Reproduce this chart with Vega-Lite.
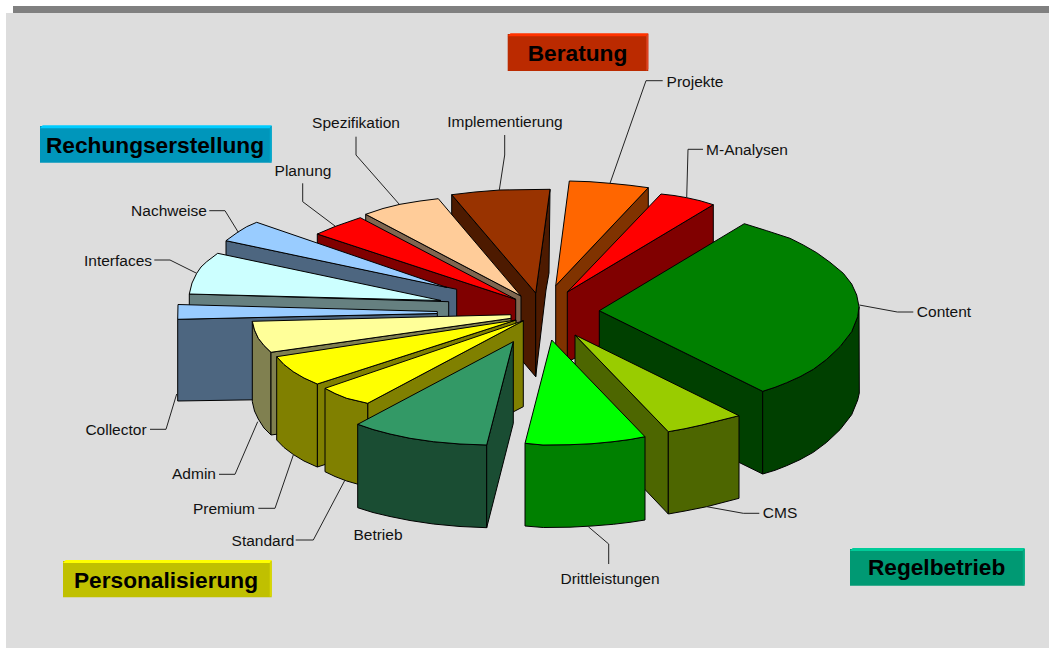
{"$schema":"https://vega.github.io/schema/vega-lite/v6.json","width":1049,"height":648,"padding":0,"autosize":{"type":"fit","contains":"padding"},"background":"white","config":{"view":{"stroke":null}},
"datasets":{
"plain":[
{"p":"panel","c":"Hintergrund","n":1,"x":6,"y":13},{"p":"panel","c":"Hintergrund","n":2,"x":1049,"y":13},{"p":"panel","c":"Hintergrund","n":3,"x":1049,"y":648},{"p":"panel","c":"Hintergrund","n":4,"x":6,"y":648},
{"p":"bar","c":"Balken","n":1,"x":13,"y":6},{"p":"bar","c":"Balken","n":2,"x":1049,"y":6},{"p":"bar","c":"Balken","n":3,"x":1049,"y":13},{"p":"bar","c":"Balken","n":4,"x":13,"y":13}
],
"boxes":[
{"p":"Ber face","c":"Beratung Flaeche","n":1,"x":507.7,"y":34},{"p":"Ber face","c":"Beratung Flaeche","n":2,"x":648.3,"y":34},{"p":"Ber face","c":"Beratung Flaeche","n":3,"x":648.3,"y":71},{"p":"Ber face","c":"Beratung Flaeche","n":4,"x":507.7,"y":71},
{"p":"Ber top","c":"Beratung Kante","n":1,"x":510.5,"y":33.3},{"p":"Ber top","c":"Beratung Kante","n":2,"x":648.3,"y":33.3},{"p":"Ber top","c":"Beratung Kante","n":3,"x":646.3,"y":36.3},{"p":"Ber top","c":"Beratung Kante","n":4,"x":507.7,"y":36.3},
{"p":"Ber right","c":"Beratung Seite","n":1,"x":646.3,"y":36.3},{"p":"Ber right","c":"Beratung Seite","n":2,"x":648.3,"y":33.3},{"p":"Ber right","c":"Beratung Seite","n":3,"x":648.3,"y":69},{"p":"Ber right","c":"Beratung Seite","n":4,"x":646.3,"y":71},
{"p":"Rech face","c":"Rechung Flaeche","n":1,"x":40,"y":126},{"p":"Rech face","c":"Rechung Flaeche","n":2,"x":271.7,"y":126},{"p":"Rech face","c":"Rechung Flaeche","n":3,"x":271.7,"y":162.7},{"p":"Rech face","c":"Rechung Flaeche","n":4,"x":40,"y":162.7},
{"p":"Rech top","c":"Rechung Kante","n":1,"x":42.7,"y":125.3},{"p":"Rech top","c":"Rechung Kante","n":2,"x":271.7,"y":125.3},{"p":"Rech top","c":"Rechung Kante","n":3,"x":269.7,"y":128.3},{"p":"Rech top","c":"Rechung Kante","n":4,"x":40,"y":128.3},
{"p":"Rech right","c":"Rechung Seite","n":1,"x":269.7,"y":128.3},{"p":"Rech right","c":"Rechung Seite","n":2,"x":271.7,"y":125.3},{"p":"Rech right","c":"Rechung Seite","n":3,"x":271.7,"y":160.7},{"p":"Rech right","c":"Rechung Seite","n":4,"x":269.7,"y":162.7},
{"p":"Pers face","c":"Personal Flaeche","n":1,"x":63,"y":561},{"p":"Pers face","c":"Personal Flaeche","n":2,"x":271.7,"y":561},{"p":"Pers face","c":"Personal Flaeche","n":3,"x":271.7,"y":597.3},{"p":"Pers face","c":"Personal Flaeche","n":4,"x":63,"y":597.3},
{"p":"Pers top","c":"Personal Kante","n":1,"x":65.7,"y":560},{"p":"Pers top","c":"Personal Kante","n":2,"x":271.7,"y":560},{"p":"Pers top","c":"Personal Kante","n":3,"x":269.7,"y":563},{"p":"Pers top","c":"Personal Kante","n":4,"x":63,"y":563},
{"p":"Pers right","c":"Personal Seite","n":1,"x":269.7,"y":563},{"p":"Pers right","c":"Personal Seite","n":2,"x":271.7,"y":560},{"p":"Pers right","c":"Personal Seite","n":3,"x":271.7,"y":595.3},{"p":"Pers right","c":"Personal Seite","n":4,"x":269.7,"y":597.3},
{"p":"Reg face","c":"Regel Flaeche","n":1,"x":850,"y":549},{"p":"Reg face","c":"Regel Flaeche","n":2,"x":1024.7,"y":549},{"p":"Reg face","c":"Regel Flaeche","n":3,"x":1024.7,"y":585.7},{"p":"Reg face","c":"Regel Flaeche","n":4,"x":850,"y":585.7},
{"p":"Reg top","c":"Regel Kante","n":1,"x":852.7,"y":548},{"p":"Reg top","c":"Regel Kante","n":2,"x":1024.7,"y":548},{"p":"Reg top","c":"Regel Kante","n":3,"x":1022.7,"y":551},{"p":"Reg top","c":"Regel Kante","n":4,"x":850,"y":551},
{"p":"Reg right","c":"Regel Seite","n":1,"x":1022.7,"y":551},{"p":"Reg right","c":"Regel Seite","n":2,"x":1024.7,"y":548},{"p":"Reg right","c":"Regel Seite","n":3,"x":1024.7,"y":583.7},{"p":"Reg right","c":"Regel Seite","n":4,"x":1022.7,"y":585.7}
],
"pie":[
{"p":"Impl left","c":"Impl side","n":1,"x":451.7,"y":194.7},{"p":"Impl left","c":"Impl side","n":2,"x":535.7,"y":293},{"p":"Impl left","c":"Impl side","n":3,"x":535.7,"y":376.7},{"p":"Impl left","c":"Impl side","n":4,"x":451.7,"y":278},
{"p":"Impl right","c":"Impl side","n":1,"x":535.7,"y":293},{"p":"Impl right","c":"Impl side","n":2,"x":550,"y":189.3},{"p":"Impl right","c":"Impl side","n":3,"x":549,"y":273},{"p":"Impl right","c":"Impl side","n":4,"x":546,"y":290},{"p":"Impl right","c":"Impl side","n":5,"x":535.7,"y":376.7},
{"p":"Impl top","c":"Impl top","n":1,"x":451.7,"y":194.7},{"p":"Impl top","c":"Impl top","n":2,"x":475,"y":192},{"p":"Impl top","c":"Impl top","n":3,"x":500,"y":190},{"p":"Impl top","c":"Impl top","n":4,"x":550,"y":189.3},{"p":"Impl top","c":"Impl top","n":5,"x":535.7,"y":293},
{"p":"Spez cut","c":"Spez side","n":1,"x":365.7,"y":214.3},{"p":"Spez cut","c":"Spez side","n":2,"x":521,"y":296},{"p":"Spez cut","c":"Spez side","n":3,"x":521,"y":380},{"p":"Spez cut","c":"Spez side","n":4,"x":365.7,"y":298},
{"p":"Spez top","c":"Spez top","n":1,"x":365.7,"y":214.3},{"p":"Spez top","c":"Spez top","n":2,"x":383,"y":208.5},{"p":"Spez top","c":"Spez top","n":3,"x":400,"y":204.3},{"p":"Spez top","c":"Spez top","n":4,"x":420,"y":201},{"p":"Spez top","c":"Spez top","n":5,"x":438.3,"y":198.7},{"p":"Spez top","c":"Spez top","n":6,"x":521,"y":296},
{"p":"Plan cut","c":"Plan side","n":1,"x":317.3,"y":234},{"p":"Plan cut","c":"Plan side","n":2,"x":515.7,"y":299.3},{"p":"Plan cut","c":"Plan side","n":3,"x":515.7,"y":383},{"p":"Plan cut","c":"Plan side","n":4,"x":317.3,"y":318},
{"p":"Plan top","c":"Plan top","n":1,"x":317.3,"y":234},{"p":"Plan top","c":"Plan top","n":2,"x":335,"y":226.5},{"p":"Plan top","c":"Plan top","n":3,"x":360.3,"y":217.7},{"p":"Plan top","c":"Plan top","n":4,"x":515.7,"y":299.3},
{"p":"Nach cut","c":"Nach side","n":1,"x":226,"y":240.7},{"p":"Nach cut","c":"Nach side","n":2,"x":456.7,"y":289.3},{"p":"Nach cut","c":"Nach side","n":3,"x":456.7,"y":373},{"p":"Nach cut","c":"Nach side","n":4,"x":226,"y":325},
{"p":"Nach top","c":"Nach top","n":1,"x":226,"y":240.7},{"p":"Nach top","c":"Nach top","n":2,"x":238,"y":232},{"p":"Nach top","c":"Nach top","n":3,"x":246.7,"y":226.7},{"p":"Nach top","c":"Nach top","n":4,"x":256.7,"y":222.3},{"p":"Nach top","c":"Nach top","n":5,"x":447,"y":287.5},
{"p":"Intf cut","c":"Intf side","n":1,"x":189.3,"y":294},{"p":"Intf cut","c":"Intf side","n":2,"x":448.7,"y":301.7},{"p":"Intf cut","c":"Intf side","n":3,"x":448.7,"y":385},{"p":"Intf cut","c":"Intf side","n":4,"x":189.3,"y":378},
{"p":"Intf top","c":"Intf top","n":1,"x":189.3,"y":294},{"p":"Intf top","c":"Intf top","n":2,"x":192,"y":283},{"p":"Intf top","c":"Intf top","n":3,"x":196.7,"y":273.3},{"p":"Intf top","c":"Intf top","n":4,"x":201,"y":267},{"p":"Intf top","c":"Intf top","n":5,"x":206.7,"y":261.7},{"p":"Intf top","c":"Intf top","n":6,"x":217.7,"y":253.3},{"p":"Intf top","c":"Intf top","n":7,"x":441,"y":300.5},
{"p":"Coll cut","c":"Coll side","n":1,"x":177.7,"y":319.3},{"p":"Coll cut","c":"Coll side","n":2,"x":437.3,"y":313.5},{"p":"Coll cut","c":"Coll side","n":3,"x":437.3,"y":397},{"p":"Coll cut","c":"Coll side","n":4,"x":177.7,"y":401},
{"p":"Coll top","c":"Coll top","n":1,"x":178,"y":304.5},{"p":"Coll top","c":"Coll top","n":2,"x":437.3,"y":311.5},{"p":"Coll top","c":"Coll top","n":3,"x":437.3,"y":313.5},{"p":"Coll top","c":"Coll top","n":4,"x":177.7,"y":319.3},
{"p":"Admin outer","c":"Admin side","n":1,"x":252.3,"y":321.3},{"p":"Admin outer","c":"Admin side","n":2,"x":254.5,"y":330},{"p":"Admin outer","c":"Admin side","n":3,"x":258.3,"y":338.3},{"p":"Admin outer","c":"Admin side","n":4,"x":264,"y":345.5},{"p":"Admin outer","c":"Admin side","n":5,"x":271,"y":352.3},{"p":"Admin outer","c":"Admin side","n":6,"x":271,"y":435},{"p":"Admin outer","c":"Admin side","n":7,"x":264,"y":428},{"p":"Admin outer","c":"Admin side","n":8,"x":258.3,"y":419},{"p":"Admin outer","c":"Admin side","n":9,"x":254.5,"y":411},{"p":"Admin outer","c":"Admin side","n":10,"x":252.3,"y":401.7},
{"p":"Admin cut","c":"Admin side","n":1,"x":271,"y":352.3},{"p":"Admin cut","c":"Admin side","n":2,"x":511,"y":318.3},{"p":"Admin cut","c":"Admin side","n":3,"x":511,"y":402},{"p":"Admin cut","c":"Admin side","n":4,"x":271,"y":435},
{"p":"Admin top","c":"Admin top","n":1,"x":252.3,"y":321.3},{"p":"Admin top","c":"Admin top","n":2,"x":511,"y":314.7},{"p":"Admin top","c":"Admin top","n":3,"x":511,"y":318.3},{"p":"Admin top","c":"Admin top","n":4,"x":271,"y":352.3},{"p":"Admin top","c":"Admin top","n":5,"x":264,"y":345.5},{"p":"Admin top","c":"Admin top","n":6,"x":258.3,"y":338.3},{"p":"Admin top","c":"Admin top","n":7,"x":254.5,"y":330},
{"p":"Prem cut","c":"Prem side","n":1,"x":317.3,"y":384},{"p":"Prem cut","c":"Prem side","n":2,"x":516,"y":320},{"p":"Prem cut","c":"Prem side","n":3,"x":516,"y":403},{"p":"Prem cut","c":"Prem side","n":4,"x":317.3,"y":467},
{"p":"Prem outer","c":"Prem side","n":1,"x":276.7,"y":356.7},{"p":"Prem outer","c":"Prem side","n":2,"x":284,"y":364.5},{"p":"Prem outer","c":"Prem side","n":3,"x":293.3,"y":371.7},{"p":"Prem outer","c":"Prem side","n":4,"x":304,"y":378},{"p":"Prem outer","c":"Prem side","n":5,"x":317.3,"y":384},{"p":"Prem outer","c":"Prem side","n":6,"x":317.3,"y":467},{"p":"Prem outer","c":"Prem side","n":7,"x":304,"y":461},{"p":"Prem outer","c":"Prem side","n":8,"x":293.3,"y":454.5},{"p":"Prem outer","c":"Prem side","n":9,"x":284,"y":447.5},{"p":"Prem outer","c":"Prem side","n":10,"x":276.7,"y":440},
{"p":"Prem top","c":"Prem top","n":1,"x":276.7,"y":356.7},{"p":"Prem top","c":"Prem top","n":2,"x":516,"y":320},{"p":"Prem top","c":"Prem top","n":3,"x":317.3,"y":384},{"p":"Prem top","c":"Prem top","n":4,"x":304,"y":378},{"p":"Prem top","c":"Prem top","n":5,"x":293.3,"y":371.7},{"p":"Prem top","c":"Prem top","n":6,"x":284,"y":364.5},
{"p":"Std cut","c":"Std side","n":1,"x":367.7,"y":403.3},{"p":"Std cut","c":"Std side","n":2,"x":523.3,"y":320.7},{"p":"Std cut","c":"Std side","n":3,"x":523.3,"y":406.7},{"p":"Std cut","c":"Std side","n":4,"x":367.7,"y":487},
{"p":"Std outer","c":"Std side","n":1,"x":325,"y":388.3},{"p":"Std outer","c":"Std side","n":2,"x":335,"y":393.5},{"p":"Std outer","c":"Std side","n":3,"x":346.7,"y":398.3},{"p":"Std outer","c":"Std side","n":4,"x":367.7,"y":403.3},{"p":"Std outer","c":"Std side","n":5,"x":367.7,"y":487},{"p":"Std outer","c":"Std side","n":6,"x":346.7,"y":481},{"p":"Std outer","c":"Std side","n":7,"x":335,"y":476.5},{"p":"Std outer","c":"Std side","n":8,"x":325,"y":471.7},
{"p":"Std top","c":"Std top","n":1,"x":325,"y":388.3},{"p":"Std top","c":"Std top","n":2,"x":523.3,"y":320.7},{"p":"Std top","c":"Std top","n":3,"x":367.7,"y":403.3},{"p":"Std top","c":"Std top","n":4,"x":346.7,"y":398.3},{"p":"Std top","c":"Std top","n":5,"x":335,"y":393.5},
{"p":"Betr outer","c":"Betr side","n":1,"x":357.7,"y":424.3},{"p":"Betr outer","c":"Betr side","n":2,"x":373,"y":429.5},{"p":"Betr outer","c":"Betr side","n":3,"x":390,"y":434},{"p":"Betr outer","c":"Betr side","n":4,"x":410,"y":438.3},{"p":"Betr outer","c":"Betr side","n":5,"x":433.3,"y":441.7},{"p":"Betr outer","c":"Betr side","n":6,"x":460,"y":444},{"p":"Betr outer","c":"Betr side","n":7,"x":486.7,"y":445},{"p":"Betr outer","c":"Betr side","n":8,"x":486.7,"y":527.7},{"p":"Betr outer","c":"Betr side","n":9,"x":460,"y":526.5},{"p":"Betr outer","c":"Betr side","n":10,"x":433.3,"y":524},{"p":"Betr outer","c":"Betr side","n":11,"x":410,"y":520.5},{"p":"Betr outer","c":"Betr side","n":12,"x":390,"y":516.5},{"p":"Betr outer","c":"Betr side","n":13,"x":373,"y":512.5},{"p":"Betr outer","c":"Betr side","n":14,"x":357.7,"y":507.7},
{"p":"Betr cut","c":"Betr side","n":1,"x":486.7,"y":445},{"p":"Betr cut","c":"Betr side","n":2,"x":513.3,"y":341.7},{"p":"Betr cut","c":"Betr side","n":3,"x":513.3,"y":423.3},{"p":"Betr cut","c":"Betr side","n":4,"x":486.7,"y":527.7},
{"p":"Betr top","c":"Betr top","n":1,"x":357.7,"y":424.3},{"p":"Betr top","c":"Betr top","n":2,"x":513.3,"y":341.7},{"p":"Betr top","c":"Betr top","n":3,"x":486.7,"y":445},{"p":"Betr top","c":"Betr top","n":4,"x":460,"y":444},{"p":"Betr top","c":"Betr top","n":5,"x":433.3,"y":441.7},{"p":"Betr top","c":"Betr top","n":6,"x":410,"y":438.3},{"p":"Betr top","c":"Betr top","n":7,"x":390,"y":434},{"p":"Betr top","c":"Betr top","n":8,"x":373,"y":429.5},
{"p":"Proj cut","c":"Proj side","n":1,"x":648.3,"y":187.7},{"p":"Proj cut","c":"Proj side","n":2,"x":555.7,"y":285.7},{"p":"Proj cut","c":"Proj side","n":3,"x":555.7,"y":369},{"p":"Proj cut","c":"Proj side","n":4,"x":648.3,"y":271},
{"p":"Proj top","c":"Proj top","n":1,"x":569.3,"y":181},{"p":"Proj top","c":"Proj top","n":2,"x":590,"y":181.7},{"p":"Proj top","c":"Proj top","n":3,"x":610,"y":183.3},{"p":"Proj top","c":"Proj top","n":4,"x":630,"y":185.3},{"p":"Proj top","c":"Proj top","n":5,"x":648.3,"y":187.7},{"p":"Proj top","c":"Proj top","n":6,"x":555.7,"y":285.7},
{"p":"MAn cut","c":"MAn side","n":1,"x":713.3,"y":204.7},{"p":"MAn cut","c":"MAn side","n":2,"x":567.3,"y":292},{"p":"MAn cut","c":"MAn side","n":3,"x":567.3,"y":362},{"p":"MAn cut","c":"MAn side","n":4,"x":713.3,"y":288},
{"p":"MAn top","c":"MAn top","n":1,"x":661,"y":194},{"p":"MAn top","c":"MAn top","n":2,"x":674,"y":195.5},{"p":"MAn top","c":"MAn top","n":3,"x":686.7,"y":197.7},{"p":"MAn top","c":"MAn top","n":4,"x":700,"y":200.7},{"p":"MAn top","c":"MAn top","n":5,"x":713.3,"y":204.7},{"p":"MAn top","c":"MAn top","n":6,"x":567.3,"y":292},
{"p":"Cont cut","c":"Cont side","n":1,"x":599.3,"y":310.7},{"p":"Cont cut","c":"Cont side","n":2,"x":762.7,"y":391.3},{"p":"Cont cut","c":"Cont side","n":3,"x":762.7,"y":474},{"p":"Cont cut","c":"Cont side","n":4,"x":599.3,"y":394},
{"p":"Cont outer","c":"Cont side","n":1,"x":762.7,"y":391.3},{"p":"Cont outer","c":"Cont side","n":2,"x":775,"y":387.3},{"p":"Cont outer","c":"Cont side","n":3,"x":786.7,"y":382.7},{"p":"Cont outer","c":"Cont side","n":4,"x":800,"y":376.7},{"p":"Cont outer","c":"Cont side","n":5,"x":813.3,"y":369.3},{"p":"Cont outer","c":"Cont side","n":6,"x":826.7,"y":359.3},{"p":"Cont outer","c":"Cont side","n":7,"x":840,"y":346.7},{"p":"Cont outer","c":"Cont side","n":8,"x":851.7,"y":331.7},{"p":"Cont outer","c":"Cont side","n":9,"x":857.7,"y":316.7},{"p":"Cont outer","c":"Cont side","n":10,"x":859,"y":306.7},{"p":"Cont outer","c":"Cont side","n":11,"x":859.3,"y":393},{"p":"Cont outer","c":"Cont side","n":12,"x":857.7,"y":400},{"p":"Cont outer","c":"Cont side","n":13,"x":851.7,"y":414.7},{"p":"Cont outer","c":"Cont side","n":14,"x":840,"y":429.7},{"p":"Cont outer","c":"Cont side","n":15,"x":826.7,"y":442.3},{"p":"Cont outer","c":"Cont side","n":16,"x":813.3,"y":452.3},{"p":"Cont outer","c":"Cont side","n":17,"x":800,"y":459.7},{"p":"Cont outer","c":"Cont side","n":18,"x":786.7,"y":465.7},{"p":"Cont outer","c":"Cont side","n":19,"x":775,"y":470.3},{"p":"Cont outer","c":"Cont side","n":20,"x":762.7,"y":474},
{"p":"Cont top","c":"Cont top","n":1,"x":599.3,"y":310.7},{"p":"Cont top","c":"Cont top","n":2,"x":744.3,"y":223.7},{"p":"Cont top","c":"Cont top","n":3,"x":766.7,"y":230.7},{"p":"Cont top","c":"Cont top","n":4,"x":790,"y":238.3},{"p":"Cont top","c":"Cont top","n":5,"x":803.3,"y":245},{"p":"Cont top","c":"Cont top","n":6,"x":816.7,"y":252.7},{"p":"Cont top","c":"Cont top","n":7,"x":830,"y":262.3},{"p":"Cont top","c":"Cont top","n":8,"x":843.3,"y":273.3},{"p":"Cont top","c":"Cont top","n":9,"x":851.7,"y":284},{"p":"Cont top","c":"Cont top","n":10,"x":856.7,"y":295},{"p":"Cont top","c":"Cont top","n":11,"x":859,"y":306.7},{"p":"Cont top","c":"Cont top","n":12,"x":857.7,"y":316.7},{"p":"Cont top","c":"Cont top","n":13,"x":851.7,"y":331.7},{"p":"Cont top","c":"Cont top","n":14,"x":840,"y":346.7},{"p":"Cont top","c":"Cont top","n":15,"x":826.7,"y":359.3},{"p":"Cont top","c":"Cont top","n":16,"x":813.3,"y":369.3},{"p":"Cont top","c":"Cont top","n":17,"x":800,"y":376.7},{"p":"Cont top","c":"Cont top","n":18,"x":786.7,"y":382.7},{"p":"Cont top","c":"Cont top","n":19,"x":775,"y":387.3},{"p":"Cont top","c":"Cont top","n":20,"x":762.7,"y":391.3},
{"p":"CMS cut","c":"CMS side","n":1,"x":575,"y":335},{"p":"CMS cut","c":"CMS side","n":2,"x":668.3,"y":431.7},{"p":"CMS cut","c":"CMS side","n":3,"x":668.3,"y":514},{"p":"CMS cut","c":"CMS side","n":4,"x":575,"y":416},
{"p":"CMS outer","c":"CMS side","n":1,"x":668.3,"y":431.7},{"p":"CMS outer","c":"CMS side","n":2,"x":685,"y":428.7},{"p":"CMS outer","c":"CMS side","n":3,"x":701.7,"y":425},{"p":"CMS outer","c":"CMS side","n":4,"x":739,"y":415.7},{"p":"CMS outer","c":"CMS side","n":5,"x":739,"y":498.3},{"p":"CMS outer","c":"CMS side","n":6,"x":706.7,"y":506.7},{"p":"CMS outer","c":"CMS side","n":7,"x":685,"y":511},{"p":"CMS outer","c":"CMS side","n":8,"x":668.3,"y":514},
{"p":"CMS top","c":"CMS top","n":1,"x":575,"y":335},{"p":"CMS top","c":"CMS top","n":2,"x":739,"y":415.7},{"p":"CMS top","c":"CMS top","n":3,"x":701.7,"y":425},{"p":"CMS top","c":"CMS top","n":4,"x":685,"y":428.7},{"p":"CMS top","c":"CMS top","n":5,"x":668.3,"y":431.7},
{"p":"Dritt outer","c":"Dritt side","n":1,"x":525,"y":443.3},{"p":"Dritt outer","c":"Dritt side","n":2,"x":543,"y":445},{"p":"Dritt outer","c":"Dritt side","n":3,"x":570,"y":444.7},{"p":"Dritt outer","c":"Dritt side","n":4,"x":592,"y":443.7},{"p":"Dritt outer","c":"Dritt side","n":5,"x":613,"y":441.7},{"p":"Dritt outer","c":"Dritt side","n":6,"x":630,"y":439.5},{"p":"Dritt outer","c":"Dritt side","n":7,"x":645,"y":436.7},{"p":"Dritt outer","c":"Dritt side","n":8,"x":645,"y":520},{"p":"Dritt outer","c":"Dritt side","n":9,"x":630,"y":522.3},{"p":"Dritt outer","c":"Dritt side","n":10,"x":613.3,"y":524.3},{"p":"Dritt outer","c":"Dritt side","n":11,"x":592,"y":526},{"p":"Dritt outer","c":"Dritt side","n":12,"x":570,"y":527.2},{"p":"Dritt outer","c":"Dritt side","n":13,"x":543.3,"y":527.5},{"p":"Dritt outer","c":"Dritt side","n":14,"x":525,"y":526},
{"p":"Dritt top","c":"Dritt top","n":1,"x":551.7,"y":340},{"p":"Dritt top","c":"Dritt top","n":2,"x":645,"y":436.7},{"p":"Dritt top","c":"Dritt top","n":3,"x":630,"y":439.5},{"p":"Dritt top","c":"Dritt top","n":4,"x":613,"y":441.7},{"p":"Dritt top","c":"Dritt top","n":5,"x":592,"y":443.7},{"p":"Dritt top","c":"Dritt top","n":6,"x":570,"y":444.7},{"p":"Dritt top","c":"Dritt top","n":7,"x":543,"y":445},{"p":"Dritt top","c":"Dritt top","n":8,"x":525,"y":443.3}
],
"leaders":[
{"l":"Content","n":1,"x":859.3,"y":305},{"l":"Content","n":2,"x":897.3,"y":312},{"l":"Content","n":3,"x":913.3,"y":312},
{"l":"CMS","n":1,"x":706.7,"y":506.7},{"l":"CMS","n":2,"x":743.3,"y":513.3},{"l":"CMS","n":3,"x":759.3,"y":513.3},
{"l":"Drittleistungen","n":1,"x":588.3,"y":526.7},{"l":"Drittleistungen","n":2,"x":608.7,"y":544},{"l":"Drittleistungen","n":3,"x":608.7,"y":564},
{"l":"Standard","n":1,"x":345,"y":480},{"l":"Standard","n":2,"x":313.3,"y":540},{"l":"Standard","n":3,"x":295.7,"y":540},
{"l":"Premium","n":1,"x":293.3,"y":455},{"l":"Premium","n":2,"x":275,"y":508.3},{"l":"Premium","n":3,"x":258.3,"y":508.3},
{"l":"Admin","n":1,"x":257.7,"y":421.7},{"l":"Admin","n":2,"x":235,"y":474.3},{"l":"Admin","n":3,"x":219,"y":474.3},
{"l":"Collector","n":1,"x":176.7,"y":394},{"l":"Collector","n":2,"x":166,"y":429.3},{"l":"Collector","n":3,"x":150,"y":429.3},
{"l":"Interfaces","n":1,"x":196.7,"y":273.3},{"l":"Interfaces","n":2,"x":170,"y":260},{"l":"Interfaces","n":3,"x":154.3,"y":260},
{"l":"Nachweise","n":1,"x":238.3,"y":232.3},{"l":"Nachweise","n":2,"x":225,"y":210.7},{"l":"Nachweise","n":3,"x":209.3,"y":210.7},
{"l":"Planung","n":1,"x":335,"y":226},{"l":"Planung","n":2,"x":302.7,"y":201.7},{"l":"Planung","n":3,"x":302.7,"y":183.3},
{"l":"Spezifikation","n":1,"x":399.3,"y":204.3},{"l":"Spezifikation","n":2,"x":356,"y":155},{"l":"Spezifikation","n":3,"x":356,"y":136.7},
{"l":"Implementierung","n":1,"x":499.3,"y":190},{"l":"Implementierung","n":2,"x":504.7,"y":155},{"l":"Implementierung","n":3,"x":504.7,"y":135},
{"l":"Projekte","n":1,"x":610,"y":183.3},{"l":"Projekte","n":2,"x":646,"y":80.7},{"l":"Projekte","n":3,"x":662.7,"y":80.7},
{"l":"M-Analysen","n":1,"x":686.7,"y":197.7},{"l":"M-Analysen","n":2,"x":688,"y":149.3},{"l":"M-Analysen","n":3,"x":703,"y":149.3}
],
"labels":[
{"t":"Projekte","x":695,"y":82},{"t":"M-Analysen","x":747,"y":150},{"t":"Content","x":944,"y":312},{"t":"CMS","x":780,"y":513},{"t":"Drittleistungen","x":610,"y":579},{"t":"Betrieb","x":378,"y":535},{"t":"Standard","x":263,"y":541},{"t":"Premium","x":224,"y":509},{"t":"Admin","x":194,"y":474},{"t":"Collector","x":116,"y":430},{"t":"Interfaces","x":118,"y":261},{"t":"Nachweise","x":169,"y":211},{"t":"Planung","x":303,"y":171},{"t":"Spezifikation","x":356,"y":123},{"t":"Implementierung","x":505,"y":122}
],
"heads":[
{"t":"Beratung","x":577.5,"y":54},{"t":"Rechungserstellung","x":155,"y":145.5},{"t":"Personalisierung","x":166,"y":580.5},{"t":"Regelbetrieb","x":936.6,"y":568}
]},
"layer":[
{"data":{"name":"plain"},"mark":{"type":"line","interpolate":"linear-closed","strokeWidth":0},
"encoding":{"x":{"field":"x","type":"quantitative","scale":{"domain":[0,1049],"nice":false,"zero":false},"axis":null},"y":{"field":"y","type":"quantitative","scale":{"domain":[648,0],"nice":false,"zero":false},"axis":null},"order":{"field":"n","type":"quantitative"},"detail":{"field":"p"},
"fill":{"field":"c","type":"nominal","legend":null,"scale":{"domain":["Hintergrund","Balken"],"range":["#dddddd","#808080"]}}}},
{"data":{"name":"pie"},"mark":{"type":"line","interpolate":"linear-closed","stroke":"#000000","strokeWidth":1,"strokeJoin":"round"},
"encoding":{"x":{"field":"x","type":"quantitative","axis":null},"y":{"field":"y","type":"quantitative","axis":null},"order":{"field":"n","type":"quantitative"},"detail":{"field":"p"},
"fill":{"field":"c","type":"nominal","legend":null,"scale":{"domain":["Impl top","Impl side","Spez top","Spez side","Plan top","Plan side","Nach top","Nach side","Intf top","Intf side","Coll top","Coll side","Admin top","Admin side","Prem top","Prem side","Std top","Std side","Betr top","Betr side","Proj top","Proj side","MAn top","MAn side","Cont top","Cont side","CMS top","CMS side","Dritt top","Dritt side"],"range":["#993300","#4d1a00","#ffcc99","#806650","#ff0000","#800000","#99ccff","#4d6680","#ccffff","#668080","#99ccff","#4d6680","#ffff99","#808050","#ffff00","#808000","#ffff00","#808000","#339966","#1a4d33","#ff6600","#803300","#ff0000","#800000","#008000","#004000","#99cc00","#4d6600","#00ff00","#008000"]}}}},
{"data":{"name":"leaders"},"mark":{"type":"line","stroke":"#222222","strokeWidth":1},
"encoding":{"x":{"field":"x","type":"quantitative","axis":null},"y":{"field":"y","type":"quantitative","axis":null},"order":{"field":"n","type":"quantitative"},"detail":{"field":"l"}}},
{"data":{"name":"boxes"},"mark":{"type":"line","interpolate":"linear-closed","strokeWidth":0},
"encoding":{"x":{"field":"x","type":"quantitative","axis":null},"y":{"field":"y","type":"quantitative","axis":null},"order":{"field":"n","type":"quantitative"},"detail":{"field":"p"},
"fill":{"field":"c","type":"nominal","legend":null,"scale":{"domain":["Beratung Flaeche","Beratung Kante","Beratung Seite","Rechung Flaeche","Rechung Kante","Rechung Seite","Personal Flaeche","Personal Kante","Personal Seite","Regel Flaeche","Regel Kante","Regel Seite"],"range":["#bb2a00","#ff3300","#dd4422","#0096bb","#00ccff","#00a8cc","#c0c000","#ffff00","#d8d800","#009973","#00cc99","#00ad82"]}}}},
{"data":{"name":"labels"},"mark":{"type":"text","font":"Liberation Sans","fontSize":15.5,"fill":"#111111","align":"center","baseline":"middle"},
"encoding":{"x":{"field":"x","type":"quantitative","axis":null},"y":{"field":"y","type":"quantitative","axis":null},"text":{"field":"t"}}},
{"data":{"name":"heads"},"mark":{"type":"text","font":"Liberation Sans","fontSize":22.7,"fontWeight":"bold","fill":"#000000","align":"center","baseline":"middle"},
"encoding":{"x":{"field":"x","type":"quantitative","axis":null},"y":{"field":"y","type":"quantitative","axis":null},"text":{"field":"t"}}}
],
"resolve":{"scale":{"fill":"independent"}}}
